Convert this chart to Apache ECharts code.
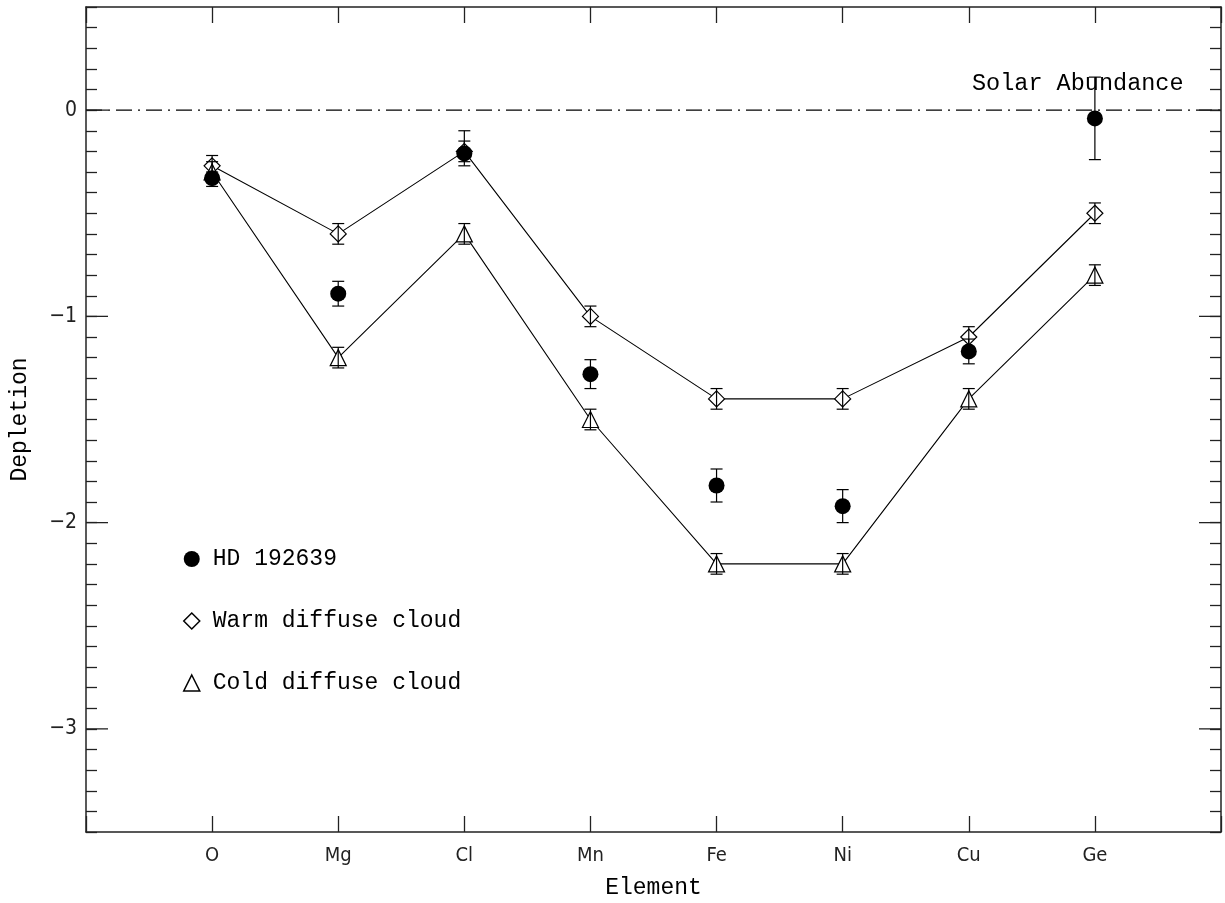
<!DOCTYPE html>
<html>
<head>
<meta charset="utf-8">
<script src="https://cdn.jsdelivr.net/npm/echarts@6/dist/echarts.min.js"></script>
<style>
html,body{margin:0;padding:0;background:#fff;}
#chart{width:1225px;height:903px;}
</style>
</head>
<body>
<div id="chart"></div>
<script>
// ---- data ----
const elements = ['O', 'Mg', 'Cl', 'Mn', 'Fe', 'Ni', 'Cu', 'Ge'];
const hdValues = [-0.33, -0.89, -0.21, -1.28, -1.82, -1.92, -1.17, -0.04];
const hdLow    = [-0.37, -0.95, -0.27, -1.35, -1.90, -2.00, -1.23, -0.24];
const hdHigh   = [-0.30, -0.83, -0.10, -1.21, -1.74, -1.84, -1.11, 0.16];
const warmValues = [-0.27, -0.60, -0.20, -1.00, -1.40, -1.40, -1.10, -0.50];
const warmErr    = [0.05, 0.05, 0.05, 0.05, 0.05, 0.05, 0.05, 0.05];
const coldValues = [-0.30, -1.20, -0.60, -1.50, -2.20, -2.20, -1.40, -0.80];
const coldErr    = [0.05, 0.05, 0.05, 0.05, 0.05, 0.05, 0.05, 0.05];
const yMajorTicks = [-3, -2, -1, 0];
const solarLevel = 0;
const yMin = -3.5, yMax = 0.5;
const xMin = 0, xMax = 9;

const mono = '"Liberation Mono", "DejaVu Sans Mono", monospace';
const narrow = '"Liberation Sans Narrow", "DejaVu Sans Condensed", "Liberation Sans", sans-serif';
const axisColor = '#222';

const pts = (vals) => vals.map((v, i) => [i + 1, v]);
const errData = [];
hdValues.forEach((v, i) => errData.push([i + 1, hdLow[i], hdHigh[i]]));
warmValues.forEach((v, i) => errData.push([i + 1, v - warmErr[i], v + warmErr[i]]));
coldValues.forEach((v, i) => errData.push([i + 1, v - coldErr[i], v + coldErr[i]]));

const chart = echarts.init(document.getElementById('chart'), null, {renderer: 'canvas'});

function errorBarItem(params, api) {
  const x = api.value(0);
  const lo = api.coord([x, api.value(1)]);
  const hi = api.coord([x, api.value(2)]);
  const cw = 6;
  const st = {stroke: '#000', lineWidth: 1.2};
  return {
    type: 'group',
    children: [
      {type: 'line', shape: {x1: lo[0], y1: lo[1], x2: hi[0], y2: hi[1]}, style: st},
      {type: 'line', shape: {x1: lo[0] - cw, y1: lo[1], x2: lo[0] + cw, y2: lo[1]}, style: st},
      {type: 'line', shape: {x1: hi[0] - cw, y1: hi[1], x2: hi[0] + cw, y2: hi[1]}, style: st}
    ]
  };
}

function majorTickItem(params, api) {
  const v = api.value(0);
  const l = api.coord([xMin, v]);
  const r = api.coord([xMax, v]);
  const st = {stroke: axisColor, lineWidth: 1.3};
  return {
    type: 'group',
    children: [
      {type: 'line', shape: {x1: l[0], y1: l[1], x2: l[0] + 22, y2: l[1]}, style: st},
      {type: 'line', shape: {x1: r[0], y1: r[1], x2: r[0] - 22, y2: r[1]}, style: st}
    ]
  };
}

const isInt = (v) => Math.abs(v - Math.round(v)) < 1e-6;
const axisLineStyle = {show: true, onZero: false, lineStyle: {color: axisColor, width: 1.5}};

const option = {
  backgroundColor: '#fff',
  animation: false,
  grid: {left: 86, right: 4, top: 7, bottom: 71, containLabel: false, outerBoundsMode: 'none'},
  xAxis: [{
    type: 'value', min: xMin, max: xMax, interval: 1, position: 'bottom',
    name: 'Element', nameLocation: 'middle', nameGap: 44,
    nameTextStyle: {fontFamily: mono, fontSize: 23, color: '#000'},
    axisLine: axisLineStyle,
    axisTick: {show: true, inside: true, length: 16, lineStyle: {color: axisColor, width: 1.3}},
    axisLabel: {
      show: true, margin: 14, fontFamily: narrow, fontSize: 20, color: '#222',
      formatter: (v) => (v >= 1 && v <= elements.length && isInt(v)) ? elements[Math.round(v) - 1] : ''
    },
    splitLine: {show: false}
  }, {
    type: 'value', min: xMin, max: xMax, interval: 1, position: 'top',
    axisLine: axisLineStyle,
    axisTick: {show: true, inside: true, length: 16, lineStyle: {color: axisColor, width: 1.3}},
    axisLabel: {show: false},
    splitLine: {show: false}
  }],
  yAxis: [{
    type: 'value', min: yMin, max: yMax, interval: 0.1, position: 'left',
    name: 'Depletion', nameLocation: 'middle', nameGap: 55, nameRotate: 90,
    nameTextStyle: {fontFamily: mono, fontSize: 23, color: '#000'},
    axisLine: axisLineStyle,
    axisTick: {show: true, inside: true, length: 11, lineStyle: {color: axisColor, width: 1.3}},
    axisLabel: {
      show: true, margin: 9, fontFamily: narrow, fontSize: 21, color: '#222',
      formatter: (v) => {
        if (!isInt(v)) return '';
        const r = Math.round(v);
        return r < 0 ? '\u2212' + Math.abs(r) : String(r);
      }
    },
    splitLine: {show: false}
  }, {
    type: 'value', min: yMin, max: yMax, interval: 0.1, position: 'right',
    axisLine: axisLineStyle,
    axisTick: {show: true, inside: true, length: 11, lineStyle: {color: axisColor, width: 1.3}},
    axisLabel: {show: false},
    splitLine: {show: false}
  }],
  legend: {
    orient: 'vertical', left: 178, top: 542, itemWidth: 16, itemHeight: 16, itemGap: 38,
    selectedMode: false,
    textStyle: {fontFamily: mono, fontSize: 23, color: '#000', lineHeight: 24, padding: [0, 0, 0, 8]},
    data: [
      {name: 'HD 192639', icon: 'circle', itemStyle: {color: '#000', opacity: 1, borderColor: '#000', borderWidth: 0}},
      {name: 'Warm diffuse cloud', icon: 'diamond', itemStyle: {color: '#fff', opacity: 1, borderColor: '#000', borderWidth: 1.5}},
      {name: 'Cold diffuse cloud', icon: 'triangle', itemStyle: {color: '#fff', opacity: 1, borderColor: '#000', borderWidth: 1.5}}
    ]
  },
  graphic: [{
    type: 'text', left: 972, top: 72,
    style: {text: 'Solar Abundance', font: '23.5px ' + mono, fill: '#000'}
  }],
  series: [
    {
      name: 'Solar', type: 'line', xAxisIndex: 0, yAxisIndex: 0,
      data: [[xMin, solarLevel], [xMax, solarLevel]], symbol: 'none', silent: true,
      lineStyle: {color: '#000', width: 1.3, type: [16, 6, 2, 6]}, z: 1
    },
    {
      name: 'majorTicks', type: 'custom', xAxisIndex: 0, yAxisIndex: 0,
      data: yMajorTicks.map(v => [v]), renderItem: majorTickItem, silent: true, z: 5,
      encode: {y: 0}, clip: false
    },
    {
      name: 'Warm diffuse cloud', type: 'line', xAxisIndex: 0, yAxisIndex: 0,
      data: pts(warmValues), symbol: 'diamond', symbolSize: 16,
      lineStyle: {color: '#000', width: 1.1},
      itemStyle: {color: '#fff', borderColor: '#000', borderWidth: 1.2}, z: 2
    },
    {
      name: 'Cold diffuse cloud', type: 'line', xAxisIndex: 0, yAxisIndex: 0,
      data: pts(coldValues), symbol: 'triangle', symbolSize: 16,
      lineStyle: {color: '#000', width: 1.1},
      itemStyle: {color: '#fff', borderColor: '#000', borderWidth: 1.2}, z: 2
    },
    {
      name: 'errors', type: 'custom', xAxisIndex: 0, yAxisIndex: 0,
      data: errData, renderItem: errorBarItem, silent: true, z: 3,
      encode: {x: 0, y: [1, 2]}
    },
    {
      name: 'HD 192639', type: 'scatter', xAxisIndex: 0, yAxisIndex: 0,
      data: pts(hdValues), symbol: 'circle', symbolSize: 16,
      itemStyle: {color: '#000', opacity: 1}, z: 4
    }
  ]
};
chart.setOption(option);
</script>
</body>
</html>
